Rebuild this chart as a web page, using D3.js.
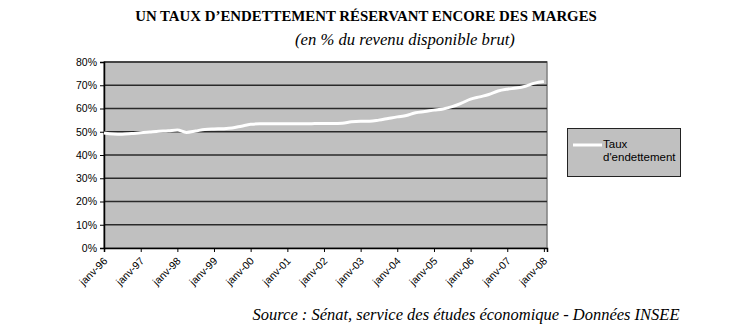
<!DOCTYPE html>
<html>
<head>
<meta charset="utf-8">
<script src="https://cdn.jsdelivr.net/npm/d3@7/dist/d3.min.js"></script>
<style>
  html, body { margin: 0; padding: 0; background: #fff; }
  svg { display: block; }
</style>
</head>
<body>
<svg id="chart" width="735" height="332"></svg>
<script>
// Quarterly debt ratio, % of gross disposable income, Q1 1996 .. Q1 2008
const startYear = 1996;
const debtRatio = [
  49.5, 49.0, 48.9, 49.2,
  49.6, 49.9, 50.2, 50.4,
  50.8, 49.7, 50.3, 51.0,
  51.2, 51.3, 51.6, 52.4,
  53.2, 53.4, 53.4, 53.4,
  53.4, 53.4, 53.4, 53.5,
  53.6, 53.6, 53.7, 54.3,
  54.5, 54.5, 55.0, 55.7,
  56.4, 57.0, 58.2, 58.7,
  59.3, 59.8, 60.8, 62.3,
  64.0, 65.0, 66.0, 67.5,
  68.3, 68.8, 69.6, 70.9,
  71.6
];
const yTicks = [0, 10, 20, 30, 40, 50, 60, 70, 80];
const xTickYears = d3.range(1996, 2009);
const seriesName = ["Taux", "d'endettement"];
const title = "UN TAUX D\u2019ENDETTEMENT RÉSERVANT ENCORE DES MARGES";
const subtitle = "(en % du revenu disponible brut)";
const source = "Source : Sénat, service des études économique - Données INSEE";

const points = debtRatio.map((v, i) => ({
  date: new Date(startYear + Math.floor(i / 4), (i % 4) * 3, 1),
  value: v
}));

const svg = d3.select("#chart");
const plot = { left: 104, right: 547, top: 62, bottom: 248 };
const serif = "Liberation Serif, Times New Roman, serif";
const sans = "Liberation Sans, Arial, sans-serif";

const x = d3.scaleTime()
  .domain([new Date(1996, 0, 1), new Date(2008, 1, 1)])
  .range([plot.left, plot.right]);
const y = d3.scaleLinear().domain([0, 80]).range([plot.bottom, plot.top]);

// Sets a text's font size so that it spans the given width
function fitWidth(sel, width) {
  const node = sel.node();
  const fs = +sel.attr("font-size");
  const w = node.getComputedTextLength();
  sel.attr("font-size", (fs * width / w).toFixed(2));
  return sel;
}

// Titles
fitWidth(svg.append("text")
  .attr("x", 366).attr("y", 21)
  .attr("text-anchor", "middle")
  .attr("font-family", serif)
  .attr("font-weight", "bold").attr("font-size", 13)
  .text(title), 462);
fitWidth(svg.append("text")
  .attr("x", 405).attr("y", 45)
  .attr("text-anchor", "middle")
  .attr("font-family", serif)
  .attr("font-style", "italic").attr("font-size", 13)
  .text(subtitle), 220);

// Plot background
svg.append("rect")
  .attr("x", plot.left).attr("y", plot.top)
  .attr("width", plot.right - plot.left).attr("height", plot.bottom - plot.top)
  .attr("fill", "#c0c0c0")
  .attr("stroke", "#808080").attr("stroke-width", 1.5);

// Horizontal gridlines
svg.append("g")
  .selectAll("line")
  .data(yTicks.filter(t => t > 0))
  .join("line")
  .attr("x1", plot.left).attr("x2", plot.right)
  .attr("y1", d => y(d)).attr("y2", d => y(d))
  .attr("stroke", "#2a2a2a").attr("stroke-width", 1.4);

// Y axis
const yAxis = svg.append("g")
  .attr("transform", `translate(${plot.left},0)`)
  .call(d3.axisLeft(y).tickValues(yTicks).tickSize(4).tickPadding(3)
    .tickFormat(d => d + "%"));
yAxis.select(".domain").attr("stroke", "#000").attr("stroke-width", 1.5);
yAxis.selectAll(".tick line").attr("stroke", "#000");
yAxis.selectAll("text")
  .attr("font-family", sans)
  .attr("font-size", 10.5).attr("fill", "#000");

// X axis
const xAxis = svg.append("g")
  .attr("transform", `translate(0,${plot.bottom})`)
  .call(d3.axisBottom(x)
    .tickValues(xTickYears.map(yr => new Date(yr, 0, 1)))
    .tickSize(4)
    .tickFormat(d => "janv-" + String(d.getFullYear()).slice(2)));
xAxis.select(".domain").attr("stroke", "#000").attr("stroke-width", 1.5);
xAxis.selectAll(".tick line").attr("stroke", "#000");
xAxis.selectAll("text")
  .attr("font-family", sans)
  .attr("font-size", 10.5).attr("fill", "#000")
  .attr("text-anchor", "end")
  .attr("x", 0).attr("y", 0)
  .attr("dy", "0.35em")
  .attr("transform", "translate(1,11) rotate(-45)");

// Series line
const line = d3.line()
  .x(d => x(d.date))
  .y(d => y(d.value))
  .curve(d3.curveMonotoneX);
svg.append("path")
  .datum(points)
  .attr("d", line)
  .attr("fill", "none")
  .attr("stroke", "#fff")
  .attr("stroke-width", 3)
  .attr("stroke-linejoin", "round");

// Legend
const legend = svg.append("g");
legend.append("rect")
  .attr("x", 567.5).attr("y", 128.5)
  .attr("width", 113).attr("height", 48)
  .attr("fill", "#c0c0c0").attr("stroke", "#222").attr("stroke-width", 1);
legend.append("line")
  .attr("x1", 573).attr("x2", 602).attr("y1", 145).attr("y2", 145)
  .attr("stroke", "#fff").attr("stroke-width", 3);
legend.selectAll("text.lbl")
  .data(seriesName)
  .join("text")
  .attr("class", "lbl")
  .attr("x", 603).attr("y", (d, i) => 148 + i * 13)
  .attr("font-family", sans)
  .attr("font-size", 11.5).attr("fill", "#000")
  .text(d => d);

// Source line
fitWidth(svg.append("text")
  .attr("x", 466).attr("y", 320)
  .attr("text-anchor", "middle")
  .attr("font-family", serif)
  .attr("font-style", "italic").attr("font-size", 13)
  .text(source), 427);
</script>
</body>
</html>
